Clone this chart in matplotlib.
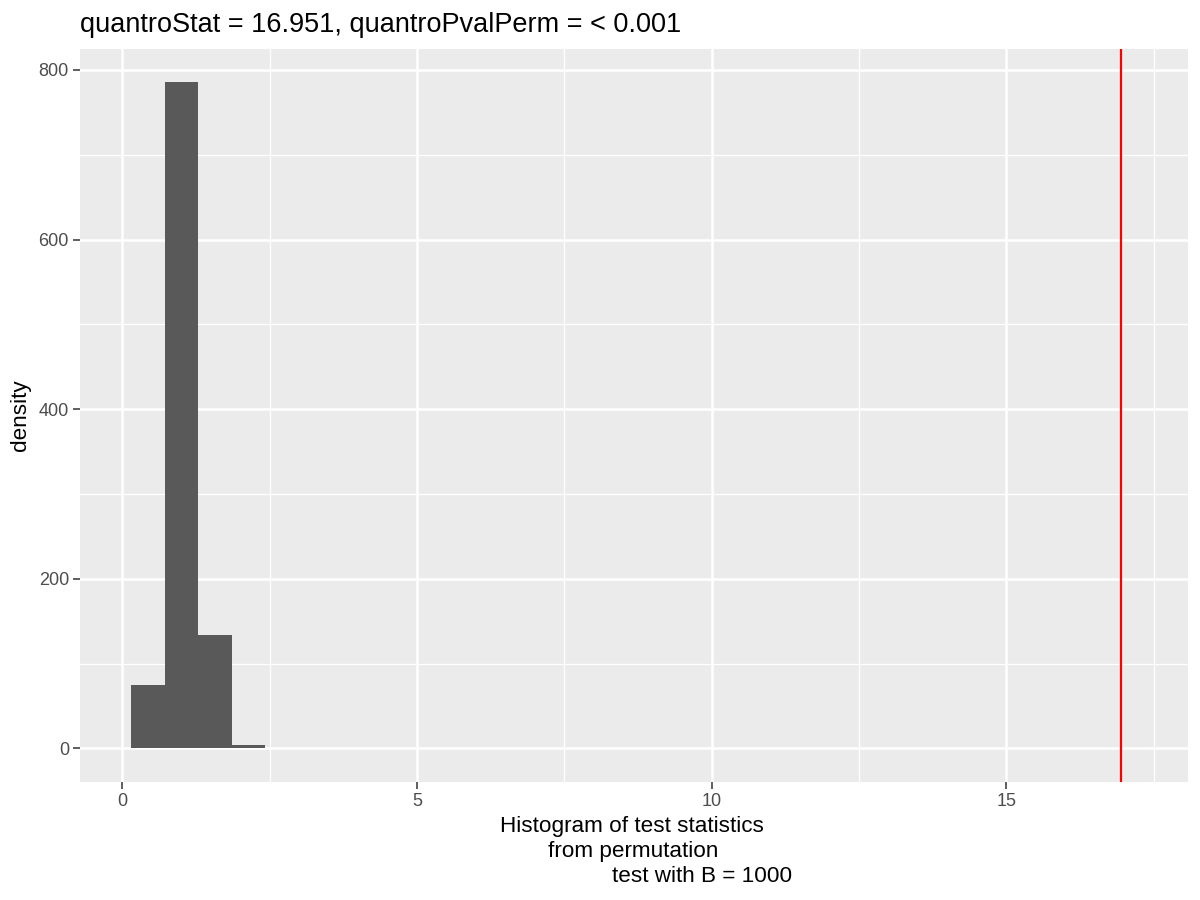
import matplotlib
matplotlib.use("Agg")
import matplotlib.pyplot as plt

# histogram of permutation statistics (density)
bin_left = [0.148, 0.716, 1.285, 1.853]
bin_width = 0.5685
density = [75.0, 785.8, 133.6, 3.9]
quantro_stat = 16.951

x_ticks = [0, 5, 10, 15]
x_minor = [2.5, 7.5, 12.5, 17.5]
y_ticks = [0, 200, 400, 600, 800]
y_minor = [100, 300, 500, 700]

plt.rcParams["font.family"] = ["Liberation Sans", "DejaVu Sans"]

W, H = 1200, 900
fig = plt.figure(figsize=(12, 9), dpi=100)
# panel position in pixels
left, right, top, bottom = 80, 1188.3, 49.3, 781.7
ax = fig.add_axes([left / W, 1 - bottom / H, (right - left) / W, (bottom - top) / H])

ax.set_facecolor("#EBEBEB")
for s in ax.spines.values():
    s.set_visible(False)

ax.set_xlim(-0.718, 18.09)
ax.set_ylim(-39.4, 824.4)

for v in x_minor:
    ax.axvline(v, color="white", lw=0.9, zorder=0)
for v in y_minor:
    ax.axhline(v, color="white", lw=0.9, zorder=0)
for v in x_ticks:
    ax.axvline(v, color="white", lw=1.8, zorder=0)
for v in y_ticks:
    ax.axhline(v, color="white", lw=1.8, zorder=0)

ax.bar(bin_left, density, width=bin_width, align="edge", color="#595959",
       edgecolor="none", zorder=2)
ax.axvline(quantro_stat, color="#FF0000", lw=1.6, zorder=3)

ax.set_xticks(x_ticks)
ax.set_yticks(y_ticks)
ax.tick_params(axis="both", length=5, width=1.1, color="#333333",
               labelcolor="#4D4D4D", labelsize=13, pad=3)

fig.text(left / W, 1 - 31.7 / H, "quantroStat = 16.951, quantroPvalPerm = < 0.001",
         ha="left", va="baseline", fontsize=19.5, color="black")

fig.text(21 / W, 1 - (top + bottom) / 2 / H, "density", rotation=90,
         ha="center", va="center", fontsize=16.2, color="black")

xlab_lines = ["Histogram of test statistics", "from permutation", "test with B = 1000"]
xlab_centers = [631.5, 633, 702.5]
xlab_baselines = [831.7, 856.7, 881.7]
for txt, cx, by in zip(xlab_lines, xlab_centers, xlab_baselines):
    fig.text(cx / W, 1 - by / H, txt, ha="center", va="baseline",
             fontsize=16.2, color="black")

fig.savefig("out.png", dpi=100, facecolor="white")
